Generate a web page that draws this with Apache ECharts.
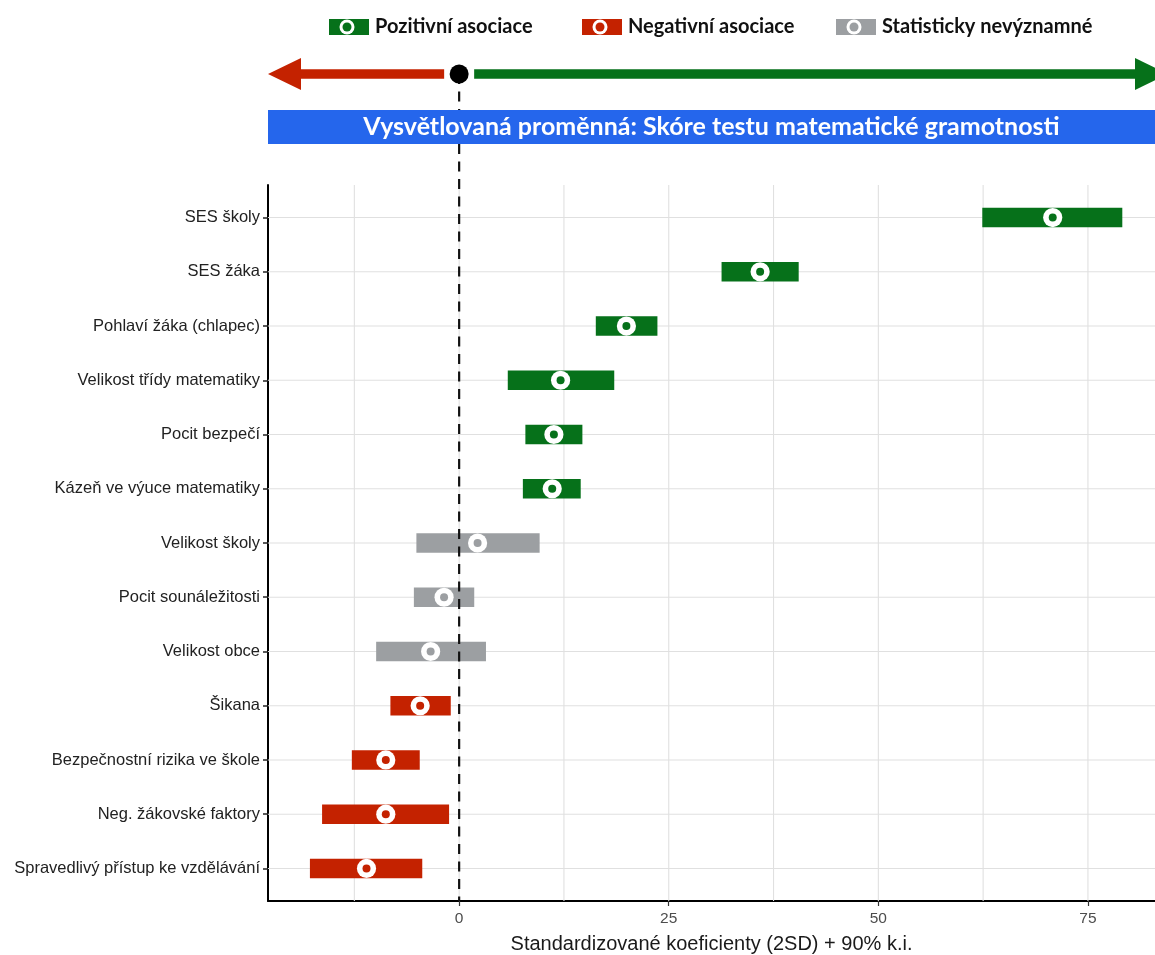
<!DOCTYPE html>
<html>
<head>
<meta charset="utf-8">
<script src="https://cdn.jsdelivr.net/npm/echarts@6/dist/echarts.min.js"></script>
<style>
  html, body { margin: 0; padding: 0; background: #ffffff; }
  #chart { width: 1155px; height: 955px; }
</style>
</head>
<body>
<div id="chart"></div>
<script>
// Predictors, listed top to bottom
const categories = [
  'SES školy', 'SES žáka', 'Pohlaví žáka (chlapec)', 'Velikost třídy matematiky',
  'Pocit bezpečí', 'Kázeň ve výuce matematiky', 'Velikost školy', 'Pocit sounáležitosti',
  'Velikost obce', 'Šikana', 'Bezpečnostní rizika ve škole', 'Neg. žákovské faktory',
  'Spravedlivý přístup ke vzdělávání'
];
// Standardized coefficients (2SD) and 90% confidence limits
const estimates = [70.8, 35.9, 19.95, 12.1, 11.3, 11.1, 2.2, -1.8, -3.4, -4.65, -8.75, -8.75, -11.05];
const ciLow     = [62.4, 31.3, 16.3, 5.8, 7.9, 7.6, -5.1, -5.4, -9.9, -8.2, -12.8, -16.35, -17.8];
const ciHigh    = [79.1, 40.5, 23.65, 18.5, 14.7, 14.5, 9.6, 1.8, 3.2, -1.0, -4.7, -1.2, -4.4];

const xTickLabels = [0, 25, 50, 75];
const xGridValues = [-12.5, 0, 12.5, 25, 37.5, 50, 62.5, 75];
const legendLabels = ['Pozitivní asociace', 'Negativní asociace', 'Statisticky nevýznamné'];
const bannerText = 'Vysvětlovaná proměnná: Skóre testu matematické gramotnosti';
const axisTitle = 'Standardizované koeficienty (2SD) + 90% k.i.';

const COLORS = { pos: '#06711a', neg: '#c42200', ns: '#9c9fa2' };
const LEGEND_KEYS = ['pos', 'neg', 'ns'];
const BANNER_BLUE = '#2566ec';
const AXIS_FONT = '"Liberation Sans", Arial, sans-serif';
const HEAD_FONT = 'Lato, "Open Sans", sans-serif';
const X_MIN = -22.8, X_MAX = 83;
const N = categories.length;
const Y_MIN = 0.4, Y_MAX = N + 0.6;
const rowPositions = categories.map((_, i) => N - i);

function classOf(i) {
  if (ciLow[i] > 0) return 'pos';
  if (ciHigh[i] < 0) return 'neg';
  return 'ns';
}

const intervalData = categories.map((c, i) => [ciLow[i], ciHigh[i], estimates[i], N - i, i]);

const chart = echarts.init(document.getElementById('chart'), null, { renderer: 'canvas' });

const option = {
  animation: false,
  backgroundColor: '#ffffff',
  grid: { left: 268, right: 0, top: 185, bottom: 54, containLabel: false, outerBoundsMode: 'none' },
  xAxis: {
    type: 'value', min: X_MIN, max: X_MAX,
    axisLine: { show: true, onZero: false, lineStyle: { color: '#000', width: 2 } },
    axisTick: { show: true, customValues: xTickLabels, length: 5, lineStyle: { color: '#333', width: 1.2 } },
    axisLabel: { show: true, customValues: xTickLabels, color: '#4d4d4d', fontSize: 15.5,
                 fontFamily: AXIS_FONT, margin: 10 },
    splitLine: { show: false },
    name: axisTitle, nameLocation: 'middle', nameGap: 33,
    nameTextStyle: { color: '#1a1a1a', fontSize: 20, fontFamily: AXIS_FONT }
  },
  yAxis: {
    type: 'value', min: Y_MIN, max: Y_MAX,
    axisLine: { show: true, onZero: false, lineStyle: { color: '#000', width: 2 } },
    axisTick: { show: true, customValues: rowPositions, length: 5, lineStyle: { color: '#222', width: 1.5 } },
    axisLabel: {
      show: true, customValues: rowPositions, color: '#222', fontSize: 16.5,
      fontFamily: AXIS_FONT, margin: 8,
      formatter: v => categories[N - Math.round(v)] || ''
    },
    splitLine: { show: false }
  },
  series: [
    {
      // vertical grid lines
      type: 'custom', name: 'vgrid', silent: true, z: 1,
      data: xGridValues.map(v => [v]),
      encode: { x: 0 },
      renderItem: (params, api) => {
        const cs = params.coordSys;
        const x = api.coord([api.value(0), Y_MIN])[0];
        return { type: 'line', shape: { x1: x, y1: cs.y, x2: x, y2: cs.y + cs.height },
                 style: { stroke: '#e0e0e0', lineWidth: 1.1 } };
      }
    },
    {
      // horizontal grid lines, one per predictor
      type: 'custom', name: 'hgrid', silent: true, z: 1,
      data: rowPositions.map(p => [X_MIN, p]),
      encode: { x: 0, y: 1 },
      renderItem: (params, api) => {
        const cs = params.coordSys;
        const y = api.coord([X_MIN, api.value(1)])[1];
        return { type: 'line', shape: { x1: cs.x, y1: y, x2: cs.x + cs.width, y2: y },
                 style: { stroke: '#e0e0e0', lineWidth: 1.1 } };
      }
    },
    {
      // confidence interval bars with estimate markers
      type: 'custom', name: 'coef', z: 3,
      data: intervalData,
      encode: { x: [0, 1, 2], y: 3 },
      renderItem: (params, api) => {
        const lo = api.coord([api.value(0), api.value(3)]);
        const hi = api.coord([api.value(1), api.value(3)]);
        const pt = api.coord([api.value(2), api.value(3)]);
        const color = COLORS[classOf(api.value(4))];
        const h = 19.5;
        return {
          type: 'group',
          children: [
            { type: 'rect', shape: { x: lo[0], y: lo[1] - h / 2, width: hi[0] - lo[0], height: h },
              style: { fill: color } },
            { type: 'circle', shape: { cx: pt[0], cy: pt[1], r: 9.6 }, style: { fill: '#ffffff' } },
            { type: 'circle', shape: { cx: pt[0], cy: pt[1], r: 4 }, style: { fill: color } }
          ]
        };
      }
    }
  ]
};

chart.setOption(option);

// Decorations above the plot: legend, direction arrows, banner and zero reference line
const zeroX = chart.convertToPixel({ xAxisIndex: 0 }, 0);
const leftX = chart.convertToPixel({ xAxisIndex: 0 }, X_MIN);
const rightX = chart.convertToPixel({ xAxisIndex: 0 }, X_MAX);
const bottomY = chart.convertToPixel({ yAxisIndex: 0 }, Y_MIN);
const arrowY = 74;
const headLen = 33, headHalf = 16, shaft = 9.5;

const legendStarts = [329, 582, 836];
const legendItems = [];
legendLabels.forEach((label, i) => {
  const x0 = legendStarts[i];
  const col = COLORS[LEGEND_KEYS[i]];
  legendItems.push(
    { type: 'rect', shape: { x: x0, y: 19, width: 40, height: 16 }, style: { fill: col }, z: 10 },
    { type: 'circle', shape: { cx: x0 + 18, cy: 27, r: 7.5 }, style: { fill: '#ffffff' }, z: 11 },
    { type: 'circle', shape: { cx: x0 + 18, cy: 27, r: 4.5 }, style: { fill: col }, z: 12 },
    { type: 'text', x: x0 + 46, y: 27,
      style: { text: label, fill: '#111', font: 'bold 20px ' + HEAD_FONT,
               textVerticalAlign: 'middle', textAlign: 'left' }, z: 10 }
  );
});

const graphics = legendItems.concat([
  // negative direction arrow
  { type: 'rect', shape: { x: leftX + headLen - 2, y: arrowY - shaft / 2, width: zeroX - 15 - (leftX + headLen - 2), height: shaft },
    style: { fill: COLORS.neg }, z: 20 },
  { type: 'polygon', shape: { points: [[leftX, arrowY], [leftX + headLen, arrowY - headHalf], [leftX + headLen, arrowY + headHalf]] },
    style: { fill: COLORS.neg }, z: 20 },
  // positive direction arrow
  { type: 'rect', shape: { x: zeroX + 15, y: arrowY - shaft / 2, width: rightX - 20 - (zeroX + 15) + 2, height: shaft },
    style: { fill: COLORS.pos }, z: 20 },
  { type: 'polygon', shape: { points: [[rightX - 20, arrowY - headHalf], [rightX - 20 + headLen, arrowY], [rightX - 20, arrowY + headHalf]] },
    style: { fill: COLORS.pos }, z: 20 },
  // zero reference line
  { type: 'line', shape: { x1: zeroX, y1: arrowY, x2: zeroX, y2: bottomY },
    style: { stroke: '#111', lineWidth: 2.2, lineDash: [10, 7.5] }, z: 30 },
  { type: 'circle', shape: { cx: zeroX, cy: arrowY, r: 9.5 }, style: { fill: '#000' }, z: 31 },
  // banner with the dependent variable
  { type: 'rect', shape: { x: leftX, y: 110, width: rightX - leftX, height: 34 },
    style: { fill: BANNER_BLUE }, z: 40 },
  { type: 'text', x: (leftX + rightX) / 2, y: 127,
    style: { text: bannerText, fill: '#ffffff', font: 'bold 25px ' + HEAD_FONT,
             textAlign: 'center', textVerticalAlign: 'middle' }, z: 41 }
]);

chart.setOption({ graphic: { elements: graphics } });
</script>
</body>
</html>
